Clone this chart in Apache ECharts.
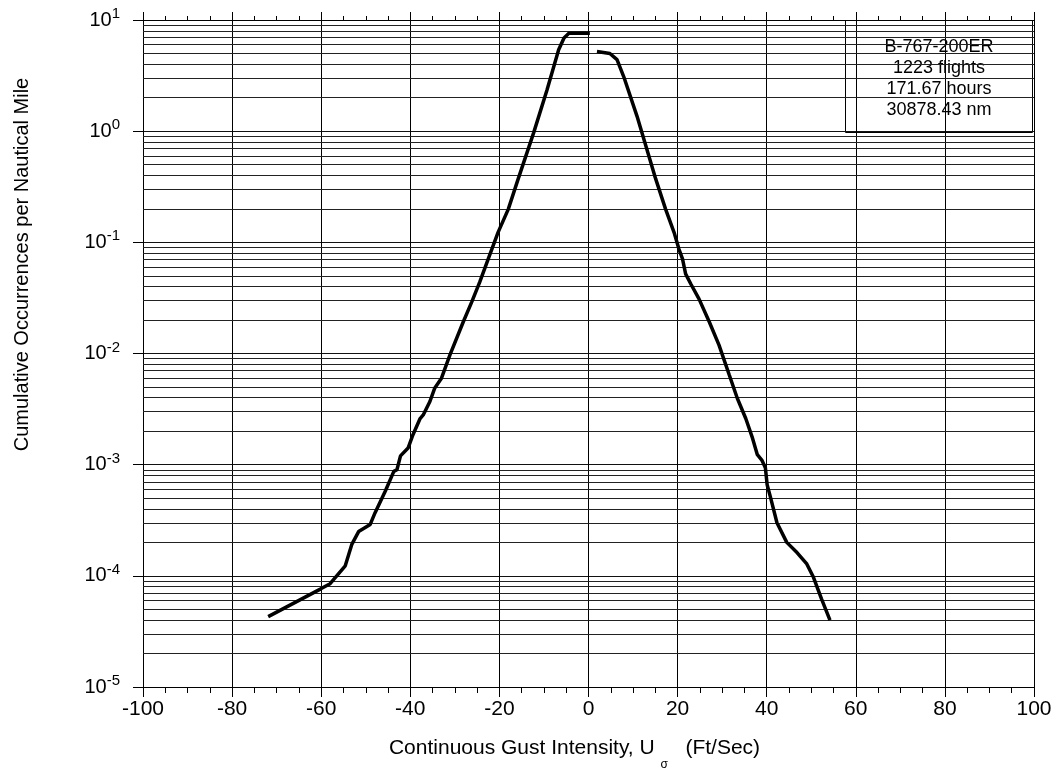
<!DOCTYPE html>
<html>
<head>
<meta charset="utf-8">
<script src="https://cdn.jsdelivr.net/npm/echarts@6/dist/echarts.min.js"></script>
<style>
html,body{margin:0;padding:0;background:#fff;}
#chart{width:1060px;height:776px;}
</style>
</head>
<body>
<div id="chart"></div>
<script>
// Negative gust branch
const leftX = [-71.9, -60.2, -58.0, -54.6, -53.1, -51.6, -49.0, -47.9, -45.6, -43.7, -43.0, -42.2, -40.5, -39.4, -37.8, -37.1, -35.6, -34.5, -33.0, -31.1, -28.1, -26.2, -24.4, -22.5, -20.3, -18.0, -15.8, -12.3, -9.3, -6.7, -5.5, -4.4, 0.3];
const leftY = [4.3e-5, 7.6e-5, 8.5e-5, 1.23e-4, 1.93e-4, 2.5e-4, 2.9e-4, 3.7e-4, 5.8e-4, 8.7e-4, 9.0e-4, 1.2e-3, 1.41e-3, 1.86e-3, 2.6e-3, 2.8e-3, 3.7e-3, 4.9e-3, 6.0e-3, 9.7e-3, 0.0193, 0.0291, 0.044, 0.071, 0.123, 0.199, 0.37, 0.97, 2.36, 5.4, 6.9, 7.6, 7.6];
// Positive gust branch
const rightX = [1.9, 4.8, 6.4, 7.9, 10.9, 15.1, 17.3, 19.2, 20.3, 21.1, 21.8, 23.0, 24.8, 27.1, 29.3, 31.6, 33.4, 35.3, 36.8, 37.9, 38.9, 39.7, 40.1, 40.9, 42.3, 44.5, 46.8, 49.0, 50.5, 52.3, 54.2];
const rightY = [5.2, 5.0, 4.4, 3.1, 1.36, 0.37, 0.199, 0.123, 0.087, 0.071, 0.052, 0.042, 0.031, 0.0193, 0.0119, 6.4e-3, 3.96e-3, 2.6e-3, 1.74e-3, 1.23e-3, 1.1e-3, 9.4e-4, 6.6e-4, 5.0e-4, 3.0e-4, 2.0e-4, 1.62e-4, 1.28e-4, 9.7e-5, 6.2e-5, 4.0e-5];
// Axis ticks
const xTicks = [-100, -80, -60, -40, -20, 0, 20, 40, 60, 80, 100];
const yDecades = [-5, -4, -3, -2, -1, 0, 1];
const minorMults = [2, 3, 4, 5, 6, 7, 8, 9];
const infoLines = ['B-767-200ER', '1223 flights', '171.67 hours', '30878.43 nm'];

const minorLines = [];
yDecades.slice(0, -1).forEach(e => minorMults.forEach(m => minorLines.push({ yAxis: m * Math.pow(10, e) })));

const FONT = 'Liberation Sans, Arial, sans-serif';
const chart = echarts.init(document.getElementById('chart'), null, { renderer: 'canvas' });

const option = {
  backgroundColor: '#fff',
  animation: false,
  grid: { left: 143, right: 26, top: 20, bottom: 86, containLabel: false },
  xAxis: [{
    type: 'value', min: xTicks[0], max: xTicks[xTicks.length - 1], interval: 20,
    position: 'bottom',
    axisLine: { show: true, onZero: false, lineStyle: { color: '#000', width: 1 } },
    axisTick: { show: true, inside: false, length: 10, lineStyle: { color: '#000' } },
    minorTick: { show: true, splitNumber: 4, length: 6, lineStyle: { color: '#000' } },
    splitLine: { show: true, lineStyle: { color: '#000', width: 1 } },
    axisLabel: { fontFamily: FONT, fontSize: 21, color: '#000', margin: 12 },
    name: '{a|Continuous Gust Intensity, U }{sub|σ}{a|   (Ft/Sec)}',
    nameLocation: 'middle', nameGap: 38,
    nameTextStyle: {
      fontFamily: FONT, color: '#000', padding: [0, 28, 0, 0],
      rich: {
        a: { fontFamily: FONT, fontSize: 21, color: '#000' },
        sub: { fontFamily: FONT, fontSize: 12, color: '#000', padding: [34, 0, 0, 0] }
      }
    }
  }, {
    type: 'value', min: xTicks[0], max: xTicks[xTicks.length - 1], interval: 20,
    position: 'top',
    axisLine: { show: true, onZero: false, lineStyle: { color: '#000', width: 1 } },
    axisTick: { show: true, inside: false, length: 8, lineStyle: { color: '#000' } },
    minorTick: { show: true, splitNumber: 4, length: 4, lineStyle: { color: '#000' } },
    splitLine: { show: false },
    axisLabel: { show: false }
  }],
  yAxis: [{
    type: 'log', logBase: 10, min: 1e-5, max: 10,
    axisLine: { show: true, onZero: false, lineStyle: { color: '#000', width: 1 } },
    axisTick: { show: true, inside: false, length: 10, lineStyle: { color: '#000' } },
    splitLine: { show: true, lineStyle: { color: '#111', width: 1 } },
    axisLabel: {
      margin: 23,
      formatter: v => '{b|10}{s|' + Math.round(Math.log10(v)) + '}',
      rich: {
        b: { fontFamily: FONT, fontSize: 20, color: '#000' },
        s: { fontFamily: FONT, fontSize: 15, color: '#000', padding: [0, 0, 12, 0] }
      }
    },
    name: 'Cumulative Occurrences per Nautical Mile',
    nameLocation: 'middle', nameGap: 111, nameRotate: 90,
    nameTextStyle: { fontFamily: FONT, fontSize: 20, color: '#000', padding: [0, 0, 0, 178] }
  }, {
    type: 'log', logBase: 10, min: 1e-5, max: 10, position: 'right',
    axisLine: { show: true, onZero: false, lineStyle: { color: '#000', width: 1 } },
    axisTick: { show: false }, splitLine: { show: false }, axisLabel: { show: false }
  }],
  series: [{
    type: 'line', name: 'neg', xAxisIndex: 0, yAxisIndex: 0,
    data: leftX.map((x, i) => [x, leftY[i]]),
    showSymbol: false, symbol: 'none', smooth: false,
    lineStyle: { color: '#000', width: 3.5 },
    z: 10,
    markLine: {
      silent: true, symbol: ['none', 'none'], label: { show: false }, precision: 12,
      lineStyle: { color: '#222', width: 1, type: 'solid' },
      data: minorLines, z: 1
    }
  }, {
    type: 'line', name: 'pos', xAxisIndex: 0, yAxisIndex: 0,
    data: rightX.map((x, i) => [x, rightY[i]]),
    showSymbol: false, symbol: 'none', smooth: false,
    lineStyle: { color: '#000', width: 3.5 },
    z: 10
  }],
  graphic: [{
    type: 'group', left: 845, top: 20, z: 100,
    children: [{
      type: 'rect', shape: { x: 0, y: 0, width: 187, height: 112 },
      style: { fill: '#fff', stroke: '#000', lineWidth: 1 }
    }].concat(infoLines.map((t, i) => ({
      type: 'text', x: 93.5, y: 27 + i * 21,
      style: { text: t, fontFamily: FONT, fontSize: 18, fill: '#000', align: 'center', verticalAlign: 'middle' }
    })))
  }]
};
chart.setOption(option);
</script>
</body>
</html>
